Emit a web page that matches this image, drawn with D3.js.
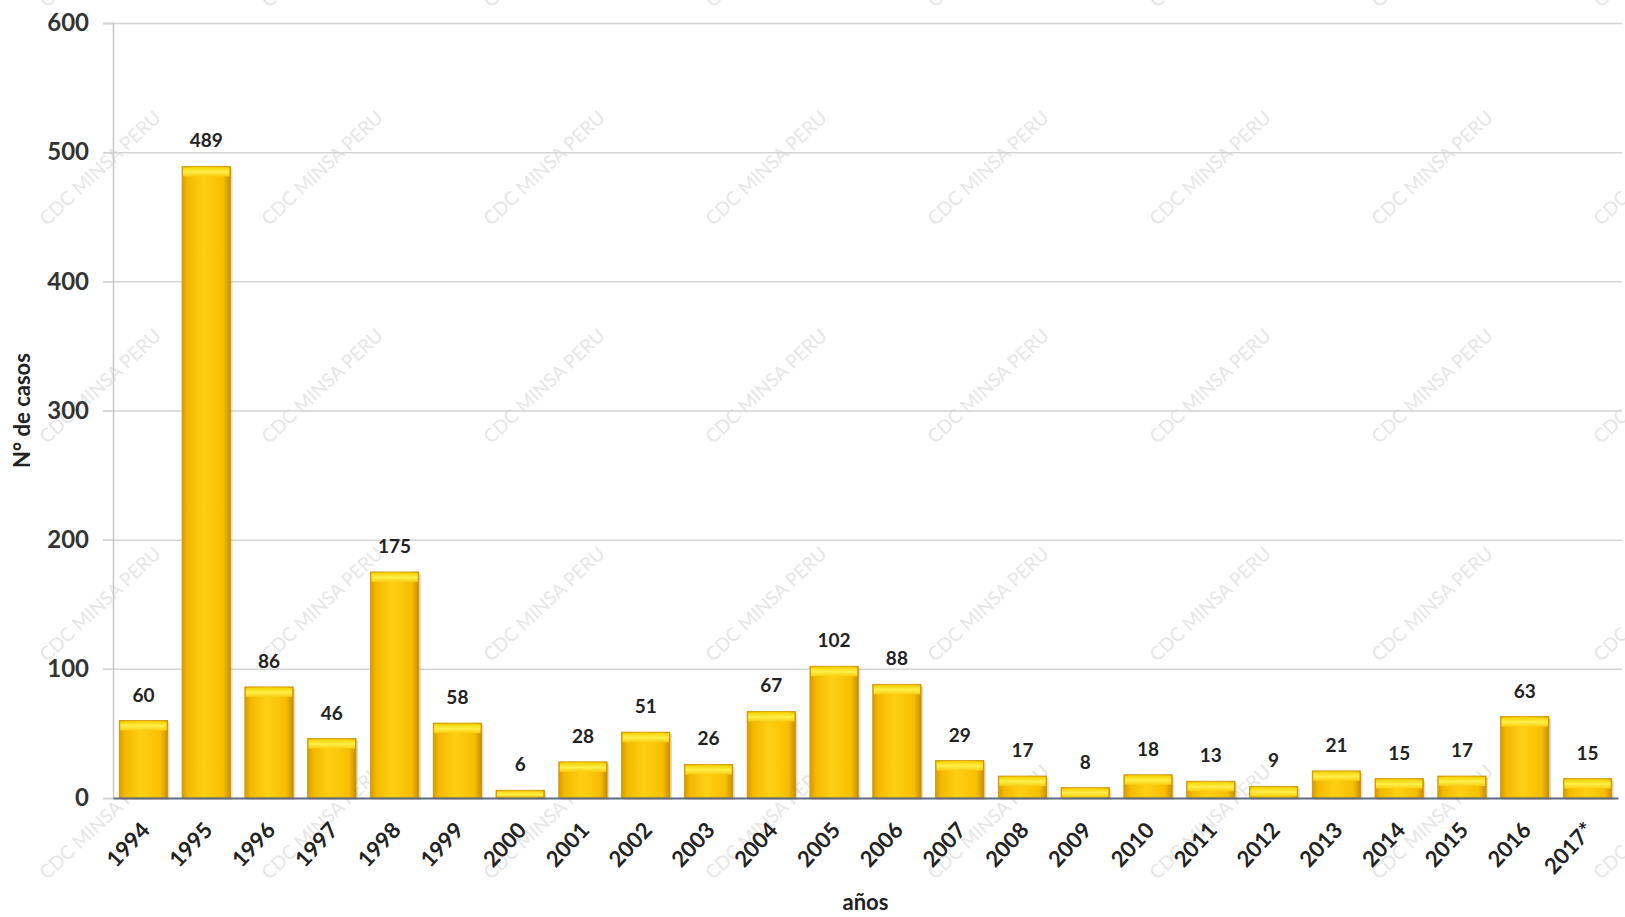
<!DOCTYPE html>
<html>
<head>
<meta charset="utf-8">
<script src="https://cdn.jsdelivr.net/npm/d3@7"></script>
<style>
	body { margin: 0; background: #fff; }
	svg { display: block; }
	text { font-family: Lato, "Open Sans", sans-serif; font-weight: bold; fill: #222; }
</style>
</head>
<body>
<svg id="chart" width="1625" height="917"></svg>
<script>
var years = ["1994", "1995", "1996", "1997", "1998", "1999", "2000", "2001", "2002", "2003", "2004", "2005",
	"2006", "2007", "2008", "2009", "2010", "2011", "2012", "2013", "2014", "2015", "2016", "2017*"];
var casos = [60, 489, 86, 46, 175, 58, 6, 28, 51, 26, 67, 102, 88, 29, 17, 8, 18, 13, 9, 21, 15, 17, 63, 15];
var yTicks = [0, 100, 200, 300, 400, 500, 600];

var svg = d3.select("#chart");
var plotLeft = 113, plotRight = 1618, plotTop = 23, plotBottom = 798;

var x = d3.scaleBand().domain(years).range([plotLeft, plotRight]).paddingInner(0.23).paddingOuter(0.1);
var y = d3.scaleLinear().domain([0, 600]).range([plotBottom, plotTop]);

// gradients for the bars
var defs = svg.append("defs");
var g1 = defs.append("linearGradient").attr("id", "barFill").attr("x1", "0").attr("x2", "1").attr("y1", "0").attr("y2", "0");
g1.append("stop").attr("offset", "0%").attr("stop-color", "#d99a00");
g1.append("stop").attr("offset", "12%").attr("stop-color", "#f2b900");
g1.append("stop").attr("offset", "45%").attr("stop-color", "#ffcf14");
g1.append("stop").attr("offset", "85%").attr("stop-color", "#f6bf00");
g1.append("stop").attr("offset", "100%").attr("stop-color", "#c98d00");
var g2 = defs.append("linearGradient").attr("id", "barTop").attr("x1", "0").attr("x2", "0").attr("y1", "0").attr("y2", "1");
g2.append("stop").attr("offset", "0%").attr("stop-color", "#f5d200");
g2.append("stop").attr("offset", "50%").attr("stop-color", "#fff04a");
g2.append("stop").attr("offset", "100%").attr("stop-color", "#f9cd10");

// watermark
var wm = svg.append("g").attr("class", "watermark");
for (var r = 0; r < 5; r++) {
	for (var c = 0; c < 8; c++) {
		wm.append("text")
			.attr("transform", "translate(" + (100 + c * 222) + "," + (-50 + r * 218) + ") rotate(-43)")
			.attr("text-anchor", "middle")
			.attr("dy", "0.35em")
			.style("font-size", "19px")
			.style("font-weight", "normal")
			.style("fill", "#e6e6e6")
			.text("CDC MINSA PERU");
	}
}

// gridlines
svg.append("g").selectAll("line")
	.data(yTicks.filter(function(d) { return d > 0; }))
	.enter().append("line")
	.attr("x1", plotLeft - 10).attr("x2", plotRight + 4)
	.attr("y1", function(d) { return y(d) + 0.5; })
	.attr("y2", function(d) { return y(d) + 0.5; })
	.attr("stroke", "#d4d4d4").attr("stroke-width", 1.5);

// y axis
var yAxis = svg.append("g")
	.attr("transform", "translate(" + plotLeft + ",0)")
	.call(d3.axisLeft(y).tickValues(yTicks).tickSize(10).tickPadding(14));
yAxis.select(".domain").attr("stroke", "#c8c8c8").attr("stroke-width", 1.5);
yAxis.selectAll(".tick line").attr("stroke", "#d4d4d4").attr("stroke-width", 1.5);
yAxis.selectAll(".tick text").style("font-size", "24px").style("fill", "#333");

// bars
var bars = svg.append("g").selectAll("g.bar")
	.data(casos)
	.enter().append("g").attr("class", "bar");

bars.append("rect")
	.attr("x", function(d, i) { return x(years[i]) + 2; })
	.attr("y", function(d) { return y(d) + 2; })
	.attr("width", x.bandwidth())
	.attr("height", function(d) { return plotBottom - y(d); })
	.attr("fill", "#b89a60").attr("opacity", 0.35);

bars.append("rect")
	.attr("x", function(d, i) { return x(years[i]); })
	.attr("y", function(d) { return y(d); })
	.attr("width", x.bandwidth())
	.attr("height", function(d) { return plotBottom - y(d); })
	.attr("fill", "url(#barFill)")
	.attr("stroke", "#c99400").attr("stroke-width", 0.8);

bars.append("rect")
	.attr("x", function(d, i) { return x(years[i]) + 1; })
	.attr("y", function(d) { return y(d) + 1; })
	.attr("width", x.bandwidth() - 2)
	.attr("height", function(d) { return Math.min(9, Math.max(0, plotBottom - y(d) - 2)); })
	.attr("fill", "url(#barTop)");

// value labels
bars.append("text")
	.attr("x", function(d, i) { return x(years[i]) + x.bandwidth() / 2; })
	.attr("y", function(d) { return y(d) - 19; })
	.attr("text-anchor", "middle")
	.style("font-size", "19px")
	.text(function(d) { return d; });

// x axis
var xAxis = svg.append("g")
	.attr("transform", "translate(0," + plotBottom + ")")
	.call(d3.axisBottom(x).tickSize(0).tickPadding(0));
xAxis.select(".domain").attr("stroke", "#5c6a82").attr("stroke-width", 2);
xAxis.selectAll(".tick text")
	.attr("text-anchor", "end")
	.attr("y", 0)
	.attr("dy", "0.35em")
	.attr("transform", "translate(2,28) rotate(-47)")
	.style("font-size", "22px")
	.style("fill", "#222");

// axis titles
svg.append("text")
	.attr("x", (plotLeft + plotRight) / 2).attr("y", 910)
	.attr("text-anchor", "middle")
	.style("font-size", "22px")
	.text("años");

svg.append("text")
	.attr("transform", "translate(30," + (plotTop + plotBottom) / 2 + ") rotate(-90)")
	.attr("text-anchor", "middle")
	.style("font-size", "22px")
	.text("N° de casos");
</script>
</body>
</html>
